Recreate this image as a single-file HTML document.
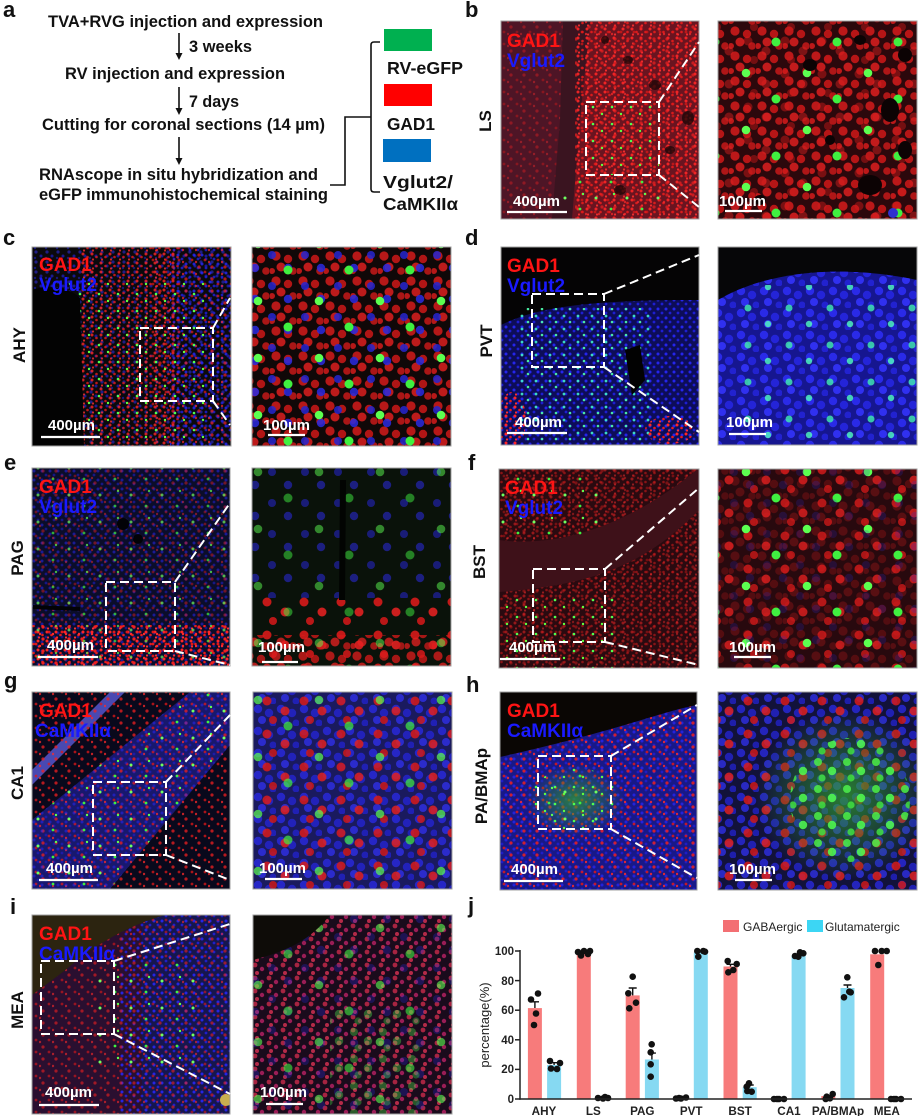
<!DOCTYPE html>
<html><head><meta charset="utf-8">
<style>
html,body{margin:0;padding:0;background:#fff;}
svg{display:block;}
text{font-family:"Liberation Sans",Arial,sans-serif;}
</style></head><body>
<svg width="918" height="1116" viewBox="0 0 918 1116" xmlns="http://www.w3.org/2000/svg">
<defs>
<pattern id="rs" width="9" height="9" patternUnits="userSpaceOnUse"><circle cx="2" cy="2" r="1.5" fill="#ff2626"/><circle cx="6.5" cy="5" r="1.3" fill="#e81c1c"/><circle cx="3" cy="7.5" r="1.1" fill="#ff3030"/></pattern>
<pattern id="rs2" width="13" height="12" patternUnits="userSpaceOnUse"><circle cx="4" cy="3" r="1.6" fill="#f02020"/><circle cx="10" cy="8" r="1.4" fill="#e01818"/><circle cx="1" cy="10" r="1.2" fill="#ff2a2a"/></pattern>
<pattern id="bs" width="8" height="9" patternUnits="userSpaceOnUse"><circle cx="2" cy="3" r="1.5" fill="#2828ff"/><circle cx="6" cy="7" r="1.4" fill="#2020e0"/></pattern>
<pattern id="bs2" width="11" height="10" patternUnits="userSpaceOnUse"><circle cx="3" cy="2" r="1.6" fill="#3030e8"/><circle cx="8" cy="6" r="1.5" fill="#2626ff"/><circle cx="2" cy="8" r="1.2" fill="#2020d0"/></pattern>
<pattern id="gs" width="19" height="17" patternUnits="userSpaceOnUse"><circle cx="4" cy="5" r="1.3" fill="#50ff50"/><circle cx="13" cy="12" r="1.2" fill="#60ff40"/></pattern>
<pattern id="gs2" width="31" height="27" patternUnits="userSpaceOnUse"><circle cx="7" cy="9" r="1.5" fill="#70ff60"/><circle cx="22" cy="20" r="1.4" fill="#40f040"/><circle cx="25" cy="5" r="1.2" fill="#60ff50"/></pattern>
<pattern id="cs" width="14" height="13" patternUnits="userSpaceOnUse"><circle cx="4" cy="4" r="1.4" fill="#40f0d0"/><circle cx="10" cy="10" r="1.3" fill="#50ffb0"/></pattern>
<pattern id="rl" width="27" height="25" patternUnits="userSpaceOnUse"><circle cx="6" cy="6" r="4.6" fill="#e01c1c"/><circle cx="18" cy="9" r="4.2" fill="#d81818"/><circle cx="11" cy="17" r="4.5" fill="#e82020"/><circle cx="23" cy="21" r="3.8" fill="#d01a1a"/><circle cx="2" cy="21" r="3" fill="#e01c1c"/></pattern>
<pattern id="rl2" width="37" height="33" patternUnits="userSpaceOnUse"><circle cx="8" cy="8" r="4.5" fill="#d81a1a"/><circle cx="26" cy="18" r="4.5" fill="#e02020"/><circle cx="14" cy="27" r="4" fill="#cc1818"/></pattern>
<pattern id="bl" width="23" height="22" patternUnits="userSpaceOnUse"><circle cx="5" cy="5" r="4.2" fill="#2a2ae8"/><circle cx="16" cy="9" r="4.2" fill="#2424d8"/><circle cx="9" cy="16" r="4" fill="#3030f0"/><circle cx="20" cy="19" r="3.5" fill="#2222d0"/></pattern>
<pattern id="bl2" width="33" height="31" patternUnits="userSpaceOnUse"><circle cx="8" cy="7" r="4" fill="#2525d0"/><circle cx="24" cy="20" r="4.2" fill="#2a2ae0"/></pattern>
<pattern id="gl" width="61" height="57" patternUnits="userSpaceOnUse"><circle cx="14" cy="16" r="4.3" fill="#5cff50"/><circle cx="44" cy="42" r="4.5" fill="#40f040"/></pattern>
<pattern id="gl2" width="29" height="27" patternUnits="userSpaceOnUse"><circle cx="6" cy="6" r="4" fill="#4cf048"/><circle cx="20" cy="15" r="4.2" fill="#50ff50"/><circle cx="10" cy="22" r="3.6" fill="#40e040"/></pattern>
<pattern id="cl" width="41" height="37" patternUnits="userSpaceOnUse"><circle cx="10" cy="12" r="3.5" fill="#40f0b0"/><circle cx="30" cy="28" r="3.2" fill="#50ffc0"/></pattern>
<pattern id="ms" width="14" height="13" patternUnits="userSpaceOnUse"><circle cx="3" cy="3" r="2.4" fill="#c02848"/><circle cx="10" cy="7" r="2.2" fill="#b02060"/><circle cx="5" cy="11" r="2" fill="#d03050"/></pattern>
<radialGradient id="gpatch" cx="50%" cy="50%" r="50%"><stop offset="0" stop-color="#30a030" stop-opacity=".75"/><stop offset="1" stop-color="#30a030" stop-opacity="0"/></radialGradient>
<clipPath id="cbL"><rect x="501" y="21" width="198" height="198"/></clipPath>
<clipPath id="cbR"><rect x="718" y="21" width="199" height="198"/></clipPath>
<clipPath id="ccL"><rect x="32" y="247" width="199" height="199"/></clipPath>
<clipPath id="ccR"><rect x="252" y="247" width="199" height="199"/></clipPath>
<clipPath id="cdL"><rect x="501" y="247" width="198" height="198"/></clipPath>
<clipPath id="cdR"><rect x="718" y="247" width="199" height="198"/></clipPath>
<clipPath id="ceL"><rect x="32" y="468" width="198" height="198"/></clipPath>
<clipPath id="ceR"><rect x="252" y="468" width="199" height="198"/></clipPath>
<clipPath id="cfL"><rect x="499" y="469" width="200" height="199"/></clipPath>
<clipPath id="cfR"><rect x="718" y="469" width="199" height="199"/></clipPath>
<clipPath id="cgL"><rect x="32" y="692" width="198" height="197"/></clipPath>
<clipPath id="cgR"><rect x="253" y="692" width="199" height="197"/></clipPath>
<clipPath id="chL"><rect x="500" y="692" width="197" height="198"/></clipPath>
<clipPath id="chR"><rect x="718" y="692" width="199" height="198"/></clipPath>
<clipPath id="ciL"><rect x="32" y="915" width="198" height="199"/></clipPath>
<clipPath id="ciR"><rect x="253" y="915" width="199" height="199"/></clipPath>
</defs>

<rect width="918" height="1116" fill="#fff"/>

<!-- ===== Panel a ===== -->
<g font-weight="bold" fill="#111">
<text x="3" y="17" font-size="22">a</text>
<text x="48" y="27" font-size="16.5" textLength="275" lengthAdjust="spacingAndGlyphs">TVA+RVG injection and expression</text>
<text x="189" y="52" font-size="16.5" textLength="63" lengthAdjust="spacingAndGlyphs">3 weeks</text>
<text x="65" y="79" font-size="16.5" textLength="220" lengthAdjust="spacingAndGlyphs">RV injection and expression</text>
<text x="189" y="107" font-size="16.5" textLength="50" lengthAdjust="spacingAndGlyphs">7 days</text>
<text x="42" y="130" font-size="16.5" textLength="283" lengthAdjust="spacingAndGlyphs">Cutting for coronal sections (14 µm)</text>
<text x="39" y="180" font-size="16.5" textLength="279" lengthAdjust="spacingAndGlyphs">RNAscope in situ hybridization and</text>
<text x="39" y="200" font-size="16.5" textLength="289" lengthAdjust="spacingAndGlyphs">eGFP immunohistochemical staining</text>
<text x="387" y="74" font-size="17.5" textLength="76" lengthAdjust="spacingAndGlyphs">RV-eGFP</text>
<text x="387" y="130" font-size="17.5" textLength="48" lengthAdjust="spacingAndGlyphs">GAD1</text>
<text x="383" y="188" font-size="17.5" textLength="70" lengthAdjust="spacingAndGlyphs">Vglut2/</text>
<text x="383" y="210" font-size="17.5" textLength="75" lengthAdjust="spacingAndGlyphs">CaMKIIα</text>
</g>
<g stroke="#111" stroke-width="1.6" fill="none">
<line x1="179" y1="33" x2="179" y2="54"/>
<line x1="179" y1="87" x2="179" y2="109"/>
<line x1="179" y1="137" x2="179" y2="159"/>
<polyline points="330,185 345,185 345,117 371,117"/>
<path d="M380,42 L374,42 Q371,42 371,45 L371,189 Q371,192 374,192 L380,192"/>
</g>
<g fill="#111">
<polygon points="175.5,53 182.5,53 179,60"/>
<polygon points="175.5,108 182.5,108 179,115"/>
<polygon points="175.5,158 182.5,158 179,165"/>
</g>
<rect x="384" y="29" width="48" height="22" fill="#00b050"/>
<rect x="384" y="84" width="48" height="22" fill="#ff0000"/>
<rect x="383" y="139" width="48" height="23" fill="#0070c0"/>

<!-- panel letters -->
<g font-weight="bold" font-size="22" fill="#111">
<text x="465" y="17">b</text>
<text x="3" y="245">c</text>
<text x="465" y="245">d</text>
<text x="4" y="470">e</text>
<text x="468" y="470">f</text>
<text x="4" y="688">g</text>
<text x="466" y="692">h</text>
<text x="10" y="914">i</text>
<text x="468" y="913">j</text>
</g>
<!-- rotated region labels -->
<g font-weight="bold" font-size="17" fill="#111" text-anchor="middle">
<text transform="translate(491,121) rotate(-90)">LS</text>
<text transform="translate(25,345) rotate(-90)">AHY</text>
<text transform="translate(492,341) rotate(-90)">PVT</text>
<text transform="translate(23,558) rotate(-90)">PAG</text>
<text transform="translate(485,562) rotate(-90)">BST</text>
<text transform="translate(23,783) rotate(-90)">CA1</text>
<text transform="translate(487,786) rotate(-90)">PA/BMAp</text>
<text transform="translate(23,1010) rotate(-90)">MEA</text>
</g>

<!-- ===== b ===== -->
<g clip-path="url(#cbL)">
<rect x="501" y="21" width="198" height="198" fill="#6a1420"/>
<rect x="501" y="21" width="65" height="198" fill="#4e1526"/>
<rect x="501" y="21" width="65" height="198" fill="url(#rs2)" opacity=".4"/>
<path d="M563,21 L590,21 L580,120 L572,219 L552,219 L560,120 Z" fill="#3a1420"/>
<rect x="575" y="21" width="124" height="198" fill="url(#rs)" opacity=".9"/>
<rect x="575" y="21" width="124" height="198" fill="url(#rs2)" opacity=".7"/>
<g fill="#1a0606" opacity=".75"><ellipse cx="628" cy="60" rx="5" ry="4"/><ellipse cx="655" cy="85" rx="6" ry="5"/><ellipse cx="688" cy="118" rx="6" ry="7"/><ellipse cx="620" cy="190" rx="6" ry="5"/><ellipse cx="670" cy="150" rx="5" ry="4"/><ellipse cx="605" cy="40" rx="4" ry="4"/></g>
<rect x="586" y="102" width="73" height="73" fill="url(#gs)"/>
<rect x="560" y="175" width="100" height="44" fill="url(#gs2)"/>
</g>
<g clip-path="url(#cbR)">
<rect x="718" y="21" width="199" height="198" fill="#2c080c"/>
<rect x="718" y="21" width="199" height="198" fill="url(#rl)" opacity=".8"/>
<rect x="718" y="21" width="199" height="198" fill="url(#rl2)" opacity=".45"/>
<rect x="718" y="21" width="199" height="198" fill="url(#gl)"/>
<g fill="#0c0304"><ellipse cx="890" cy="110" rx="9" ry="12"/><ellipse cx="870" cy="185" rx="12" ry="10"/><ellipse cx="905" cy="150" rx="7" ry="9"/><ellipse cx="810" cy="65" rx="7" ry="6"/><ellipse cx="760" cy="200" rx="6" ry="5"/><ellipse cx="905" cy="55" rx="7" ry="7"/><ellipse cx="860" cy="40" rx="6" ry="5"/><ellipse cx="830" cy="140" rx="5" ry="5"/></g>
<circle cx="893" cy="213" r="5" fill="#3030d0"/>
</g>

<!-- ===== c ===== -->
<g clip-path="url(#ccL)">
<rect x="32" y="247" width="199" height="199" fill="#0b090c"/>
<rect x="32" y="247" width="199" height="199" fill="url(#bs2)" opacity=".55"/>
<rect x="80" y="247" width="100" height="199" fill="url(#rs)" opacity=".8"/>
<rect x="170" y="247" width="61" height="199" fill="url(#bs)" opacity=".8"/>
<rect x="150" y="247" width="81" height="199" fill="url(#rs2)" opacity=".7"/>
<rect x="60" y="280" width="150" height="166" fill="url(#gs)"/>
<path d="M32,290 C50,284 70,288 80,298 L84,446 L32,446 Z" fill="#030303"/>
</g>
<g clip-path="url(#ccR)">
<rect x="252" y="247" width="199" height="199" fill="#100808"/>
<rect x="252" y="247" width="199" height="199" fill="url(#rl)" opacity=".8"/>
<rect x="252" y="247" width="199" height="199" fill="url(#bl2)" opacity=".85"/>
<rect x="252" y="247" width="199" height="199" fill="url(#gl)"/>
</g>

<!-- ===== d ===== -->
<g clip-path="url(#cdL)">
<rect x="501" y="247" width="198" height="198" fill="#050405"/>
<path d="M501,325 C540,305 600,300 699,300 L699,446 L501,446 Z" fill="#0d0d58"/>
<path d="M501,325 C540,305 600,300 699,300 L699,446 L501,446 Z" fill="url(#bs)" opacity=".9"/>
<rect x="520" y="308" width="130" height="138" fill="url(#cs)" opacity=".9"/>
<ellipse cx="512" cy="420" rx="14" ry="28" fill="url(#rs)"/>
<ellipse cx="670" cy="430" rx="25" ry="14" fill="url(#rs)"/>
<path d="M625,350 L640,345 L645,380 L632,395 Z" fill="#020202"/>
</g>
<g clip-path="url(#cdR)">
<rect x="718" y="247" width="199" height="198" fill="#060608"/>
<path d="M718,300 C760,275 830,262 917,280 L917,446 L718,446 Z" fill="#161690"/>
<path d="M718,300 C760,275 830,262 917,280 L917,446 L718,446 Z" fill="url(#bl)"/>
<rect x="740" y="285" width="177" height="161" fill="url(#cl)" opacity=".8"/>
</g>

<!-- ===== e ===== -->
<g clip-path="url(#ceL)">
<rect x="32" y="468" width="198" height="198" fill="#0b0d2a"/>
<rect x="32" y="468" width="198" height="198" fill="url(#bs)" opacity=".5"/>
<rect x="32" y="468" width="198" height="198" fill="url(#rs2)" opacity=".45"/>
<rect x="32" y="625" width="198" height="41" fill="url(#rs)"/>
<rect x="32" y="625" width="198" height="41" fill="url(#rs2)"/>
<rect x="32" y="468" width="198" height="198" fill="url(#gs2)" opacity=".7"/>
<g fill="#020206"><circle cx="123" cy="524" r="6"/><circle cx="138" cy="539" r="5"/><path d="M33,605 L80,607 L80,611 L33,609 Z"/></g>
</g>
<g clip-path="url(#ceR)">
<rect x="252" y="468" width="199" height="198" fill="#0a120a"/>
<rect x="252" y="468" width="199" height="130" fill="url(#bl2)" opacity=".55"/>
<rect x="252" y="595" width="199" height="71" fill="url(#rl2)" opacity=".9"/>
<rect x="252" y="635" width="199" height="31" fill="url(#rl)" opacity=".75"/>
<rect x="252" y="468" width="199" height="198" fill="url(#gl)" opacity=".5"/>
<path d="M340,480 L346,480 L345,600 L339,600 Z" fill="#020402"/>
</g>

<!-- ===== f ===== -->
<g clip-path="url(#cfL)">
<rect x="499" y="469" width="200" height="199" fill="#2a0a10"/>
<rect x="499" y="469" width="200" height="199" fill="url(#rs)" opacity=".5"/>
<rect x="499" y="469" width="200" height="199" fill="url(#rs2)" opacity=".4"/>
<path d="M499,540 C560,548 630,525 699,468 L699,510 C650,560 600,585 499,592 Z" fill="#3e1119"/>
<rect x="499" y="595" width="120" height="73" fill="url(#gs)"/>
<rect x="499" y="469" width="110" height="70" fill="url(#gs2)"/>
</g>
<g clip-path="url(#cfR)">
<rect x="718" y="469" width="199" height="199" fill="#28090e"/>
<rect x="718" y="469" width="199" height="199" fill="url(#rl2)" opacity=".8"/>
<rect x="718" y="469" width="199" height="199" fill="url(#rl)" opacity=".25"/>
<rect x="718" y="469" width="199" height="199" fill="url(#gl)"/>
<rect x="718" y="469" width="199" height="199" fill="url(#bl2)" opacity=".2"/>
</g>

<!-- ===== g ===== -->
<g clip-path="url(#cgL)">
<rect x="32" y="692" width="198" height="197" fill="#09091c"/>
<path d="M190,692 L230,692 L230,745 L110,889 L32,889 L32,820 Z" fill="#18186e"/>
<path d="M32,770 L110,692 L125,692 L32,785 Z" fill="#5a5ad8" opacity=".8"/>
<rect x="32" y="692" width="198" height="197" fill="url(#rs2)" opacity=".75"/>
<path d="M190,692 L230,692 L230,745 L110,889 L32,889 L32,820 Z" fill="url(#bs)" opacity=".5"/>
<path d="M190,692 L230,692 L230,745 L110,889 L32,889 L32,820 Z" fill="url(#gs2)"/>
</g>
<g clip-path="url(#cgR)">
<rect x="253" y="692" width="199" height="197" fill="#1a1a5e"/>
<rect x="253" y="692" width="199" height="197" fill="url(#bl)" opacity=".75"/>
<rect x="253" y="692" width="199" height="197" fill="url(#rl2)" opacity=".85"/>
<rect x="253" y="692" width="199" height="197" fill="url(#gl)" opacity=".7"/>
</g>

<!-- ===== h ===== -->
<g clip-path="url(#chL)">
<rect x="500" y="692" width="197" height="198" fill="#181888"/>
<rect x="500" y="692" width="197" height="198" fill="url(#bs)" opacity=".7"/>
<rect x="500" y="692" width="197" height="198" fill="url(#rs2)" opacity=".85"/>
<path d="M500,692 L697,692 L697,705 C660,712 620,730 500,757 Z" fill="#0a0604"/>
<ellipse cx="575" cy="800" rx="50" ry="36" fill="url(#gpatch)"/>
<ellipse cx="575" cy="800" rx="45" ry="32" fill="url(#gs)"/>
<ellipse cx="575" cy="800" rx="38" ry="26" fill="url(#gs2)"/>
</g>
<g clip-path="url(#chR)">
<rect x="718" y="692" width="199" height="198" fill="#12123a"/>
<rect x="718" y="692" width="199" height="198" fill="url(#bl)" opacity=".75"/>
<rect x="718" y="692" width="199" height="198" fill="url(#rl2)" opacity=".85"/>
<ellipse cx="845" cy="795" rx="90" ry="85" fill="url(#gpatch)"/>
<ellipse cx="850" cy="800" rx="60" ry="62" fill="url(#gl2)" opacity=".85"/>
</g>

<!-- ===== i ===== -->
<g clip-path="url(#ciL)">
<rect x="32" y="915" width="198" height="199" fill="#16164e"/>
<rect x="32" y="915" width="110" height="199" fill="#2a0f30"/>
<rect x="120" y="915" width="110" height="199" fill="url(#bs)" opacity=".85"/>
<rect x="32" y="915" width="198" height="199" fill="url(#rs2)" opacity=".6"/>
<path d="M32,915 L165,915 C130,925 100,942 75,962 C60,975 45,985 32,995 Z" fill="#2c2410"/>
<rect x="90" y="960" width="110" height="110" fill="url(#gs2)"/>
<circle cx="226" cy="1100" r="6" fill="#c8b050"/>
</g>
<g clip-path="url(#ciR)">
<rect x="253" y="915" width="199" height="199" fill="#1a0b1c"/>
<rect x="253" y="915" width="199" height="199" fill="url(#ms)" opacity=".85"/>
<rect x="253" y="915" width="199" height="199" fill="url(#bl2)" opacity=".3"/>
<rect x="330" y="1010" width="90" height="104" fill="url(#gl2)" opacity=".35"/>
<rect x="253" y="915" width="199" height="199" fill="url(#gl)" opacity=".6"/>
<path d="M253,915 L330,915 C310,940 290,950 253,960 Z" fill="#0e0c08"/>
</g>

<!-- image borders -->
<g fill="none" stroke="#a0a0a0" stroke-width="1">
<rect x="501" y="21" width="198" height="198"/><rect x="718" y="21" width="199" height="198"/>
<rect x="32" y="247" width="199" height="199"/><rect x="252" y="247" width="199" height="199"/>
<rect x="501" y="247" width="198" height="198"/><rect x="718" y="247" width="199" height="198"/>
<rect x="32" y="468" width="198" height="198"/><rect x="252" y="468" width="199" height="198"/>
<rect x="499" y="469" width="200" height="199"/><rect x="718" y="469" width="199" height="199"/>
<rect x="32" y="692" width="198" height="197"/><rect x="253" y="692" width="199" height="197"/>
<rect x="500" y="692" width="197" height="198"/><rect x="718" y="692" width="199" height="198"/>
<rect x="32" y="915" width="198" height="199"/><rect x="253" y="915" width="199" height="199"/>
</g>

<!-- dashed boxes and zoom lines -->
<g fill="none" stroke="#ffffff" stroke-width="2" stroke-dasharray="9,5">
<rect x="586" y="102" width="73" height="73"/><line x1="659" y1="102" x2="699" y2="42"/><line x1="659" y1="175" x2="699" y2="207"/>
<rect x="140" y="328" width="73" height="73"/><line x1="213" y1="328" x2="230" y2="298"/><line x1="213" y1="401" x2="230" y2="425"/>
<rect x="532" y="294" width="72" height="73"/><line x1="604" y1="294" x2="699" y2="255"/><line x1="604" y1="367" x2="699" y2="432"/>
<rect x="106" y="582" width="69" height="69"/><line x1="175" y1="582" x2="230" y2="503"/><line x1="175" y1="651" x2="230" y2="665"/>
<rect x="533" y="569" width="72" height="73"/><line x1="605" y1="569" x2="699" y2="488"/><line x1="605" y1="642" x2="699" y2="665"/>
<rect x="93" y="782" width="73" height="73"/><line x1="166" y1="782" x2="230" y2="715"/><line x1="166" y1="855" x2="230" y2="880"/>
<rect x="538" y="756" width="73" height="73"/><line x1="611" y1="756" x2="697" y2="705"/><line x1="611" y1="829" x2="697" y2="878"/>
<rect x="41" y="961" width="73" height="73"/><line x1="114" y1="961" x2="230" y2="924"/><line x1="114" y1="1034" x2="230" y2="1094"/>
</g>

<!-- channel labels -->
<g font-weight="bold" font-size="19">
<text x="507" y="47" fill="#ff1414">GAD1</text><text x="507" y="67" fill="#1a1aff">Vglut2</text>
<text x="39" y="271" fill="#ff1414">GAD1</text><text x="39" y="291" fill="#1a1aff">Vglut2</text>
<text x="507" y="272" fill="#ff1414">GAD1</text><text x="507" y="292" fill="#1a1aff">Vglut2</text>
<text x="39" y="493" fill="#ff1414">GAD1</text><text x="39" y="513" fill="#1a1aff">Vglut2</text>
<text x="505" y="494" fill="#ff1414">GAD1</text><text x="505" y="514" fill="#1a1aff">Vglut2</text>
<text x="39" y="717" fill="#ff1414">GAD1</text><text x="35" y="737" fill="#1a1aff">CaMKIIα</text>
<text x="507" y="717" fill="#ff1414">GAD1</text><text x="507" y="737" fill="#1a1aff">CaMKIIα</text>
<text x="39" y="940" fill="#ff1414">GAD1</text><text x="39" y="960" fill="#1a1aff">CaMKIIα</text>
</g>

<!-- scale bars -->
<g font-weight="bold" font-size="15" fill="#ffffff">
<text x="513" y="206">400µm</text><text x="719" y="206">100µm</text>
<text x="48" y="430">400µm</text><text x="263" y="430">100µm</text>
<text x="515" y="427">400µm</text><text x="726" y="427">100µm</text>
<text x="47" y="650">400µm</text><text x="258" y="652">100µm</text>
<text x="509" y="652">400µm</text><text x="729" y="652">100µm</text>
<text x="46" y="873">400µm</text><text x="259" y="873">100µm</text>
<text x="511" y="874">400µm</text><text x="729" y="874">100µm</text>
<text x="45" y="1097">400µm</text><text x="260" y="1097">100µm</text>
</g>
<g stroke="#ffffff" stroke-width="2.2">
<line x1="507" y1="212" x2="567" y2="212"/><line x1="725" y1="211" x2="762" y2="211"/>
<line x1="41" y1="437" x2="100" y2="437"/><line x1="268" y1="435" x2="305" y2="435"/>
<line x1="507" y1="433" x2="567" y2="433"/><line x1="729" y1="434" x2="766" y2="434"/>
<line x1="38" y1="657" x2="98" y2="657"/><line x1="262" y1="662" x2="298" y2="662"/>
<line x1="500" y1="659" x2="560" y2="659"/><line x1="734" y1="657" x2="771" y2="657"/>
<line x1="39" y1="880" x2="98" y2="880"/><line x1="265" y1="879" x2="302" y2="879"/>
<line x1="504" y1="881" x2="563" y2="881"/><line x1="735" y1="880" x2="772" y2="880"/>
<line x1="39" y1="1105" x2="99" y2="1105"/><line x1="266" y1="1104" x2="303" y2="1104"/>
</g>

<!-- ===== Panel j chart ===== -->
<rect x="723" y="920" width="16" height="12" fill="#f36f73"/>
<text x="743" y="931" font-size="12" fill="#222">GABAergic</text>
<rect x="807" y="920" width="16" height="12" fill="#3cd6f4"/>
<text x="825" y="931" font-size="12" fill="#222">Glutamatergic</text>

<text transform="translate(489,1025) rotate(-90)" text-anchor="middle" font-size="13" fill="#222">percentage(%)</text>

<g font-weight="bold" font-size="11.5" fill="#222" text-anchor="end">
<text x="514" y="955">100</text><text x="514" y="985">80</text><text x="514" y="1014">60</text>
<text x="514" y="1044">40</text><text x="514" y="1073">20</text><text x="514" y="1103">0</text>
</g>

<!-- bars -->
<g fill="#f77b7b">
<rect x="527.9" y="1008.1" width="14" height="90.9"/>
<rect x="576.8" y="952" width="14" height="147"/>
<rect x="625.7" y="995.4" width="14" height="103.6"/>
<rect x="674.6" y="1098.3" width="14" height="0.7"/>
<rect x="723.5" y="966.5" width="14" height="132.5"/>
<rect x="821.3" y="1096" width="14" height="3"/>
<rect x="870.2" y="954.3" width="14" height="144.7"/>
</g>
<g fill="#86d9f2">
<rect x="547.1" y="1065" width="14" height="34"/>
<rect x="596" y="1098.3" width="14" height="0.7"/>
<rect x="644.9" y="1059.5" width="14" height="39.5"/>
<rect x="693.8" y="952.5" width="14" height="146.5"/>
<rect x="742.7" y="1087.2" width="14" height="11.8"/>
<rect x="791.6" y="955.4" width="14" height="143.6"/>
<rect x="840.5" y="988" width="14" height="111"/>
</g>

<!-- error bars -->
<g stroke="#111" stroke-width="1.4" fill="none">
<path d="M534.9,1008 V1001.8 M531,1001.8 H539"/>
<path d="M554.1,1065 V1062.7 M550,1062.7 H558"/>
<path d="M632.7,995.4 V988 M628.7,988 H636.7"/>
<path d="M651.9,1059.5 V1053.1 M647.9,1053.1 H655.9"/>
<path d="M730.5,966.5 V964.3 M726.5,964.3 H734.5"/>
<path d="M749.7,1087.2 V1085 M745.7,1085 H753.7"/>
<path d="M847.5,988 V985 M843.5,985 H851.5"/>
</g>

<!-- dots -->
<g fill="#111">
<circle cx="538" cy="993.5" r="3.3"/><circle cx="531" cy="999.5" r="3.3"/><circle cx="536" cy="1013.5" r="3.3"/><circle cx="534" cy="1025" r="3.3"/>
<circle cx="550" cy="1061" r="3.3"/><circle cx="560" cy="1063" r="3.3"/><circle cx="551" cy="1068.5" r="3.3"/><circle cx="557" cy="1069" r="3.3"/>
<circle cx="578" cy="952" r="3.3"/><circle cx="584" cy="951" r="3.3"/><circle cx="590" cy="951" r="3.3"/><circle cx="581" cy="955.5" r="3.3"/><circle cx="588" cy="954" r="3.3"/>
<circle cx="598" cy="1098" r="3.3"/><circle cx="603" cy="1098.5" r="3.3"/><circle cx="608" cy="1098" r="3.3"/><circle cx="605" cy="1097" r="3.3"/>
<circle cx="632.7" cy="976.7" r="3.3"/><circle cx="628.3" cy="993.3" r="3.3"/><circle cx="636" cy="1002.7" r="3.3"/><circle cx="629.3" cy="1008.3" r="3.3"/>
<circle cx="651.7" cy="1044.3" r="3.3"/><circle cx="650.7" cy="1052.3" r="3.3"/><circle cx="650.7" cy="1064.3" r="3.3"/><circle cx="650.7" cy="1076.7" r="3.3"/>
<circle cx="676" cy="1098.5" r="3.3"/><circle cx="681" cy="1098.5" r="3.3"/><circle cx="686" cy="1097.5" r="3.3"/><circle cx="679" cy="1098" r="3.3"/>
<circle cx="697.3" cy="951" r="3.3"/><circle cx="703.3" cy="951" r="3.3"/><circle cx="698.3" cy="956.7" r="3.3"/><circle cx="705" cy="951.7" r="3.3"/>
<circle cx="727.7" cy="961" r="3.3"/><circle cx="736.7" cy="964" r="3.3"/><circle cx="728.3" cy="972.3" r="3.3"/><circle cx="733.3" cy="970" r="3.3"/>
<circle cx="749" cy="1083.3" r="3.3"/><circle cx="746.7" cy="1086.7" r="3.3"/><circle cx="751.7" cy="1091.7" r="3.3"/><circle cx="747.3" cy="1091" r="3.3"/>
<circle cx="774" cy="1099" r="3.3"/><circle cx="779" cy="1099" r="3.3"/><circle cx="784" cy="1099" r="3.3"/><circle cx="777" cy="1099" r="3.3"/>
<circle cx="800" cy="952.3" r="3.3"/><circle cx="795" cy="956" r="3.3"/><circle cx="803.3" cy="953.3" r="3.3"/><circle cx="798.3" cy="956.7" r="3.3"/>
<circle cx="826.7" cy="1096.7" r="3.3"/><circle cx="832.7" cy="1094" r="3.3"/><circle cx="825.7" cy="1099" r="3.3"/><circle cx="830" cy="1098.3" r="3.3"/>
<circle cx="847.3" cy="977.3" r="3.3"/><circle cx="849.3" cy="991.7" r="3.3"/><circle cx="844" cy="997.3" r="3.3"/><circle cx="850.7" cy="992.3" r="3.3"/>
<circle cx="875" cy="951" r="3.3"/><circle cx="881.7" cy="951" r="3.3"/><circle cx="886.7" cy="951" r="3.3"/><circle cx="878.3" cy="965" r="3.3"/>
<circle cx="891" cy="1099" r="3.3"/><circle cx="896" cy="1099" r="3.3"/><circle cx="901" cy="1099" r="3.3"/><circle cx="894" cy="1099" r="3.3"/>
</g>

<!-- axes -->
<g stroke="#222" stroke-width="1.5" fill="none">
<line x1="520" y1="950" x2="520" y2="1099.7"/>
<line x1="519.3" y1="1099" x2="912" y2="1099"/>
<line x1="515" y1="951" x2="520" y2="951"/>
<line x1="515" y1="980.6" x2="520" y2="980.6"/>
<line x1="515" y1="1010.2" x2="520" y2="1010.2"/>
<line x1="515" y1="1039.8" x2="520" y2="1039.8"/>
<line x1="515" y1="1069.4" x2="520" y2="1069.4"/>
<line x1="515" y1="1099" x2="520" y2="1099"/>
</g>

<g font-weight="bold" font-size="11.7" fill="#222" text-anchor="middle">
<text x="544" y="1115">AHY</text>
<text x="593.4" y="1115">LS</text>
<text x="642.3" y="1115">PAG</text>
<text x="691.2" y="1115">PVT</text>
<text x="740.1" y="1115">BST</text>
<text x="789" y="1115">CA1</text>
<text x="838" y="1115">PA/BMAp</text>
<text x="886.8" y="1115">MEA</text>
</g>
</svg>
</body></html>
